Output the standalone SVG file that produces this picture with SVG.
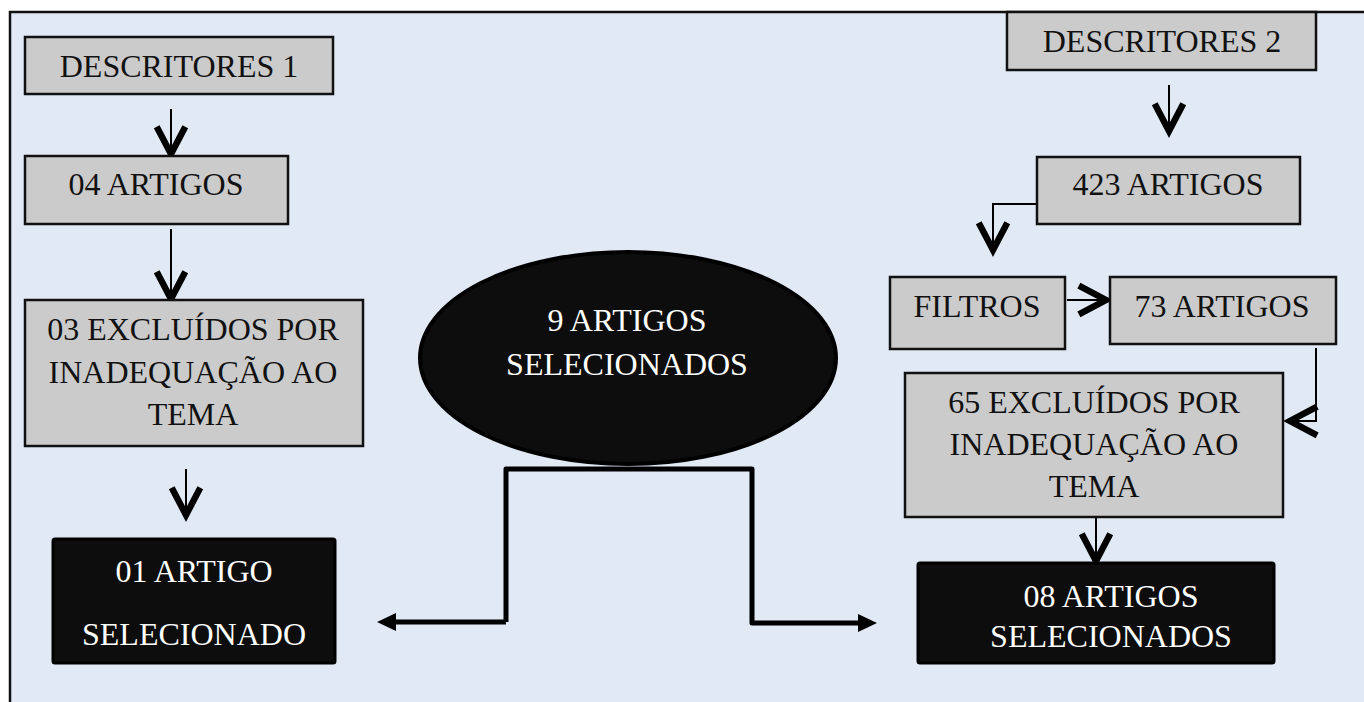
<svg xmlns="http://www.w3.org/2000/svg" width="1364" height="702" viewBox="0 0 1364 702">
<defs>
<style>
.box{fill:#cbcbcb;stroke:#111;stroke-width:2.5}
.dark{fill:#0d0d0d;stroke:#000;stroke-width:3}
.t{font-family:"Liberation Serif","Times New Roman",serif;font-size:32px;fill:#111;text-anchor:middle}
.w{fill:#fff}
.thin{fill:none;stroke:#000;stroke-width:2}
.thick{fill:none;stroke:#000;stroke-width:5;stroke-linejoin:round}
</style>
<marker id="v" markerUnits="userSpaceOnUse" markerWidth="40" markerHeight="40" viewBox="-22 -14 26 28" refX="0" refY="0" orient="auto" overflow="visible">
<path d="M -19 -10 L 0 0 L -19 10" fill="none" stroke="#000" stroke-width="4.5"/>
</marker>
<marker id="tri" markerUnits="userSpaceOnUse" markerWidth="40" markerHeight="40" viewBox="-22 -12 26 24" refX="0" refY="0" orient="auto" overflow="visible">
<path d="M -18 -9 L 0 0 L -18 9 Z" fill="#000"/>
</marker>
</defs>
<rect x="10" y="12" width="1364" height="700" fill="#e1e9f4" stroke="#111" stroke-width="2.5"/>
<g id="connectors">
<line class="thin" x1="171" y1="109" x2="171" y2="154" marker-end="url(#v)"/>
<line class="thin" x1="171" y1="229" x2="171" y2="299" marker-end="url(#v)"/>
<line class="thin" x1="186" y1="469" x2="186" y2="515" marker-end="url(#v)"/>
<line class="thin" x1="1169" y1="85" x2="1169" y2="131" marker-end="url(#v)"/>
<polyline class="thin" points="1040,204 993,204 993,250" marker-end="url(#v)"/>
<line class="thin" x1="1067" y1="300" x2="1106" y2="300" marker-end="url(#v)"/>
<polyline class="thin" points="1316,348 1316,421 1290,421" marker-end="url(#v)"/>
<line class="thin" x1="1096" y1="517" x2="1096" y2="561" marker-end="url(#v)"/>
<polyline class="thick" points="506,622 506,469 752,469 752,623 860,623"/>
<line class="thick" x1="506" y1="622" x2="394" y2="622"/>
<path d="M 377 622 L 396 613 L 396 631 Z" fill="#000"/>
<path d="M 877 623 L 858 614 L 858 632 Z" fill="#000"/>
</g>
<g id="n-descritores1">
<rect class="box" x="25" y="37" width="308" height="57"/>
<text class="t" x="179" y="77">DESCRITORES 1</text>
</g>
<g id="n-04artigos">
<rect class="box" x="25" y="156" width="263" height="68"/>
<text class="t" x="156" y="195">04 ARTIGOS</text>
</g>
<g id="n-03excluidos">
<rect class="box" x="25" y="300" width="338" height="146"/>
<text class="t" x="193" y="340">03 EXCLUÍDOS POR</text>
<text class="t" x="193" y="383">INADEQUAÇÃO AO</text>
<text class="t" x="193" y="425">TEMA</text>
</g>
<g id="n-01artigo">
<rect class="dark" x="53" y="539" width="282" height="124" rx="2"/>
<text class="t w" x="194" y="582">01 ARTIGO</text>
<text class="t w" x="194" y="645">SELECIONADO</text>
</g>
<g id="n-9artigos">
<ellipse cx="628" cy="358" rx="208" ry="106" fill="#0d0d0d" stroke="#000" stroke-width="4"/>
<text class="t w" x="627" y="331">9 ARTIGOS</text>
<text class="t w" x="627" y="375">SELECIONADOS</text>
</g>
<g id="n-descritores2">
<rect class="box" x="1007" y="12" width="309" height="58"/>
<text class="t" x="1162" y="52">DESCRITORES 2</text>
</g>
<g id="n-423artigos">
<rect class="box" x="1037" y="157" width="263" height="67"/>
<text class="t" x="1168" y="195">423 ARTIGOS</text>
</g>
<g id="n-filtros">
<rect class="box" x="890" y="277" width="175" height="72"/>
<text class="t" x="977" y="317">FILTROS</text>
</g>
<g id="n-73artigos">
<rect class="box" x="1110" y="277" width="226" height="67"/>
<text class="t" x="1222" y="317">73 ARTIGOS</text>
</g>
<g id="n-65excluidos">
<rect class="box" x="905" y="373" width="378" height="144"/>
<text class="t" x="1094" y="413">65 EXCLUÍDOS POR</text>
<text class="t" x="1094" y="455">INADEQUAÇÃO AO</text>
<text class="t" x="1094" y="497">TEMA</text>
</g>
<g id="n-08artigos">
<rect class="dark" x="918" y="563" width="356" height="100" rx="2"/>
<text class="t w" x="1111" y="607">08 ARTIGOS</text>
<text class="t w" x="1111" y="647">SELECIONADOS</text>
</g>
</svg>
